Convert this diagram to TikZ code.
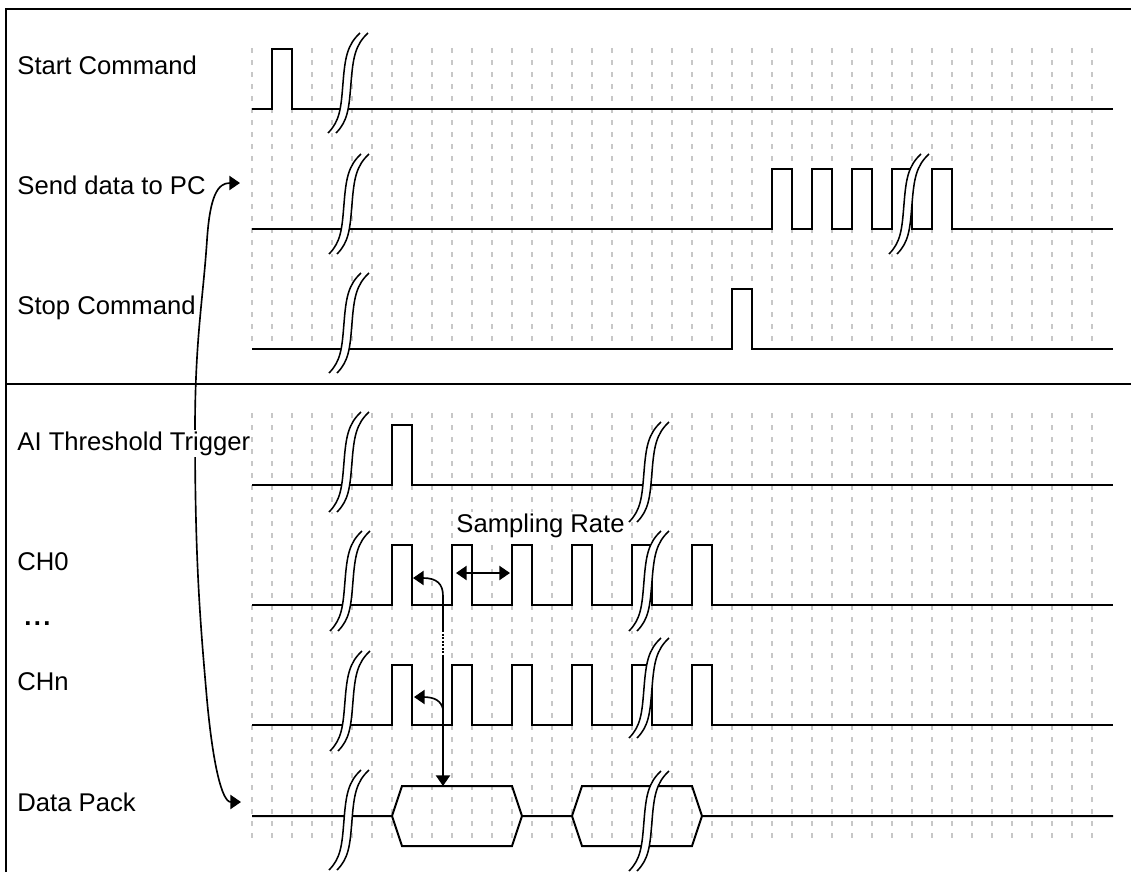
\documentclass[tikz,border=0pt]{standalone}
\usepackage{fontspec}
\setmainfont{Liberation Sans}
\usetikzlibrary{arrows.meta}
\newcommand\BreakMark[2]{%
  \fill[white] (#1-17,#2+50) .. controls (#1-5,#2+38) and (#1-4,#2+25) .. (#1-2,#2)
     .. controls (#1,#2-25) and (#1+2,#2-38) .. (#1+15,#2-50) -- (#1+23,#2-50)
     .. controls (#1+10,#2-38) and (#1+8,#2-25) .. (#1+6,#2)
     .. controls (#1+4,#2+25) and (#1+3,#2+38) .. (#1-9,#2+50) -- cycle;
  \draw[brkline] (#1-17,#2+50) .. controls (#1-5,#2+38) and (#1-4,#2+25) .. (#1-2,#2)
     .. controls (#1,#2-25) and (#1+2,#2-38) .. (#1+15,#2-50);
  \draw[brkline] (#1-9,#2+50) .. controls (#1+3,#2+38) and (#1+4,#2+25) .. (#1+6,#2)
     .. controls (#1+8,#2-25) and (#1+10,#2-38) .. (#1+23,#2-50);
}
\begin{document}
\begin{tikzpicture}[x=0.85pt,y=-0.85pt,
  sig/.style={line width=1.7pt,line join=miter},
  gridl/.style={draw=black!22,line width=1.7pt,dash pattern=on 4.25pt off 5.95pt},
  brkline/.style={line width=1.3pt},
  conn/.style={line width=1.4pt},
  frame/.style={line width=1.8pt},
  lbl/.style={font=\fontsize{21.8pt}{26pt}\selectfont,inner sep=1pt,fill=white,anchor=base west},
  >={Triangle[length=9pt,width=12pt]}]
\useasboundingbox (0,0) rectangle (1131,872);
% frame
\draw[frame] (6,872) -- (6,9) -- (1131,9);
\draw[frame] (6,384) -- (1131,384);
% grid
\foreach \i in {0,...,42} {
  \draw[gridl] (252+20*\i,48) -- (252+20*\i,346);
  \draw[gridl] (252+20*\i,413) -- (252+20*\i,840);
}
% Start Command
\draw[sig] (252,109) -- (272,109) -- (272,49) -- (292,49) -- (292,109) -- (1113,109);
% Send data to PC
\draw[sig] (252,229) -- (772,229) -- (772,169) -- (792,169) -- (792,229)
  -- (812,229) -- (812,169) -- (832,169) -- (832,229)
  -- (852,229) -- (852,169) -- (872,169) -- (872,229)
  -- (892,229) -- (892,169) -- (912,169) -- (912,229)
  -- (932,229) -- (932,169) -- (952,169) -- (952,229) -- (1113,229);
% Stop Command
\draw[sig] (252,349) -- (732,349) -- (732,289) -- (752,289) -- (752,349) -- (1113,349);
% AI Threshold Trigger
\draw[sig] (252,485) -- (392,485) -- (392,425) -- (412,425) -- (412,485) -- (1113,485);
% CH0 and CHn
\foreach \y in {605,725} {
  \draw[sig] (252,\y) -- (392,\y) -- (392,\y-60) -- (412,\y-60) -- (412,\y)
    -- (452,\y) -- (452,\y-60) -- (472,\y-60) -- (472,\y)
    -- (512,\y) -- (512,\y-60) -- (532,\y-60) -- (532,\y)
    -- (572,\y) -- (572,\y-60) -- (592,\y-60) -- (592,\y)
    -- (632,\y) -- (632,\y-60) -- (652,\y-60) -- (652,\y)
    -- (692,\y) -- (692,\y-60) -- (712,\y-60) -- (712,\y) -- (1113,\y);
}
% Data Pack
\draw[sig] (252,816) -- (392,816) -- (402,786) -- (512,786) -- (522,816) -- (572,816)
  -- (582,786) -- (692,786) -- (702,816) -- (1113,816);
\draw[sig] (392,816) -- (402,846) -- (512,846) -- (522,816);
\draw[sig] (572,816) -- (582,846) -- (692,846) -- (702,816);
% break marks
\BreakMark{345}{83}
\BreakMark{346}{204}
\BreakMark{346}{323}
\BreakMark{906}{204}
\BreakMark{346}{462}
\BreakMark{646}{472}
\BreakMark{347}{581}
\BreakMark{646}{581}
\BreakMark{347}{701}
\BreakMark{646}{688}
\BreakMark{346}{820}
\BreakMark{646}{821}
% long curved connector
\coordinate (sendtip) at (240,183);
\coordinate (datatip) at (241,802);
\draw[conn,<->] (sendtip) .. controls (218,183) and (210,195) .. (207,240)
  .. controls (203,300) and (195,340) .. (195,430)
  .. controls (195,560) and (200,620) .. (207,700)
  .. controls (213,765) and (222,802) .. (datatip);
% labels
\node[lbl] (lstart) at (16,74) {Start Command};
\node[lbl] (lsend) at (16,194) {Send data to PC};
\node[lbl] (lstop) at (16,314) {Stop Command};
\node[lbl] (lai) at (16,450) {AI Threshold Trigger};
\node[lbl] (lch0) at (16,570) {CH0};
\node[lbl] (ldots) at (23,625) {\textbf{.\kern2pt.\kern2pt.}};
\node[lbl] (lchn) at (16,690) {CHn};
\node[lbl] (ldata) at (16,811) {Data Pack};
\node[lbl] (lsamp) at (455,532) {Sampling Rate};
% sampling rate arrow
\coordinate (sl) at (456,573);
\coordinate (sr) at (510,573);
\draw[conn,<->] (sl) -- (sr);
% CH0 -> Data Pack
\coordinate (c0tip) at (413,578);
\coordinate (vd1) at (443,630);
\coordinate (vd2) at (443,657);
\coordinate (dptop) at (443,786);
\draw[conn,<-] (c0tip) -- (423,578) .. controls (437,578) and (443,584) .. (443,596) -- (vd1);
\draw[conn,dash pattern=on 1.7pt off 1.3pt] (vd1) -- (vd2);
\draw[conn,->] (vd2) -- (dptop);
% CHn arrow
\coordinate (cntip) at (414,697);
\coordinate (cnj) at (443,709);
\draw[conn,<-] (cntip) -- (423,697) .. controls (435,697) and (441,701) .. (cnj);
\end{tikzpicture}
\end{document}
